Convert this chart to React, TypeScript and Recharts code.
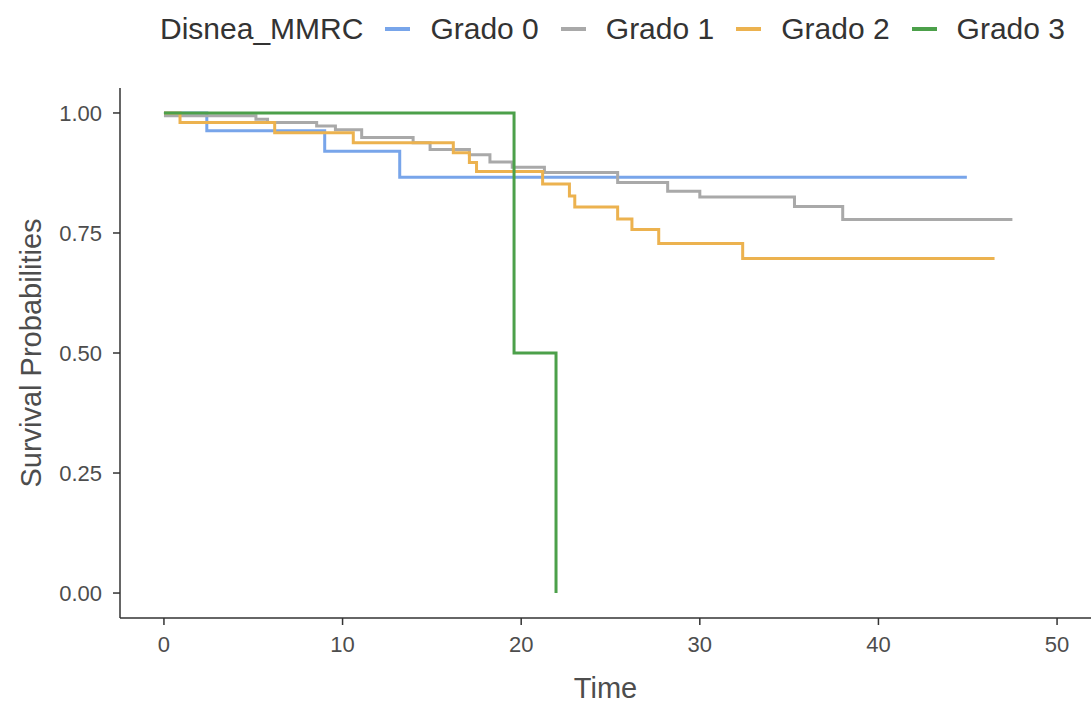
import React from 'react';
import { LineChart, Line, XAxis, YAxis, Legend } from 'recharts';

// Kaplan-Meier steps (time, survival)
const grado0Time = [0, 2.4, 9.0, 13.2, 44.95];
const grado0Surv = [1.0, 0.963, 0.92, 0.866, 0.866];

const grado1Time = [0, 5.15, 5.8, 8.55, 9.6, 11.07, 13.95, 14.9, 17.1, 18.25, 19.5, 21.3, 25.4, 28.2, 30.0, 35.3, 38.0, 47.5];
const grado1Surv = [0.994, 0.987, 0.98, 0.973, 0.965, 0.949, 0.938, 0.924, 0.913, 0.898, 0.887, 0.876, 0.855, 0.837, 0.825, 0.805, 0.778, 0.778];

const grado2Time = [0, 0.9, 6.2, 10.6, 16.2, 17.1, 17.5, 21.2, 22.7, 23.0, 25.4, 26.2, 27.7, 32.4, 46.5];
const grado2Surv = [1.0, 0.98, 0.959, 0.938, 0.917, 0.897, 0.878, 0.852, 0.827, 0.804, 0.779, 0.757, 0.728, 0.697, 0.697];

const grado3Time = [0, 19.6, 21.95];
const grado3Surv = [1.0, 0.5, 0.0];

const xTicks = [0, 10, 20, 30, 40, 50];
const yTicks = [0, 0.25, 0.5, 0.75, 1];

const legendTitle = 'Disnea_MMRC';

const toPoints = (t: number[], s: number[]) => t.map((v, i) => ({ t: v, s: s[i] }));

const series = [
  { name: 'Grado 0', color: '#78A5EA', data: toPoints(grado0Time, grado0Surv) },
  { name: 'Grado 1', color: '#A9A9A9', data: toPoints(grado1Time, grado1Surv) },
  { name: 'Grado 2', color: '#ECB24F', data: toPoints(grado2Time, grado2Surv) },
  { name: 'Grado 3', color: '#4CA04A', data: toPoints(grado3Time, grado3Surv) },
];

const FONT = '"Liberation Sans", Arial, sans-serif';
const LEGEND_H = 58;

const LegendContent = () => (
  <div
    style={{
      display: 'flex',
      alignItems: 'center',
      paddingLeft: 160,
      height: LEGEND_H,
      fontFamily: FONT,
      fontSize: 30,
      color: '#333333',
    }}
  >
    <span style={{ marginRight: 22 }}>{legendTitle}</span>
    {series.map((s) => (
      <span key={s.name} style={{ display: 'flex', alignItems: 'center', marginRight: 22 }}>
        <span style={{ width: 25, height: 4, background: s.color, marginRight: 20, display: 'inline-block' }} />
        <span>{s.name}</span>
      </span>
    ))}
  </div>
);

const YTitle = (props: any) => {
  const { viewBox } = props;
  if (!viewBox) return null;
  const cx = 31;
  const cy = viewBox.y + viewBox.height / 2;
  return (
    <text
      x={cx}
      y={cy}
      transform={`rotate(-90, ${cx}, ${cy})`}
      textAnchor="middle"
      dominantBaseline="central"
      fill="#4D4D4D"
      fontSize={29}
      fontFamily={FONT}
    >
      Survival Probabilities
    </text>
  );
};

const XTitle = (props: any) => {
  const { viewBox } = props;
  if (!viewBox) return null;
  const cx = viewBox.x + viewBox.width / 2;
  return (
    <text x={cx} y={688} textAnchor="middle" dominantBaseline="central" fill="#4D4D4D" fontSize={29} fontFamily={FONT}>
      Time
    </text>
  );
};

export default function App() {
  return (
    <div style={{ position: 'absolute', left: 0, top: 0, background: '#fff', fontFamily: FONT }}>
      <LineChart width={1091} height={704} margin={{ top: 88 - LEGEND_H, right: 0, left: 0, bottom: 0 }}>
        <XAxis
          dataKey="t"
          type="number"
          domain={[-2.46, 51.9]}
          ticks={xTicks}
          allowDataOverflow
          height={86}
          tickSize={7}
          tickMargin={11}
          stroke="#333333"
          axisLine={{ stroke: '#333333', strokeWidth: 1.5 }}
          tickLine={{ stroke: '#333333', strokeWidth: 1.5 }}
          tick={{ fill: '#4D4D4D', fontSize: 22, fontFamily: FONT }}
          label={<XTitle />}
        />
        <YAxis
          type="number"
          domain={[-0.052, 1.052]}
          ticks={yTicks}
          allowDataOverflow
          width={120}
          tickSize={7}
          tickMargin={11}
          tickFormatter={(v: number) => v.toFixed(2)}
          axisLine={{ stroke: '#333333', strokeWidth: 1.5 }}
          tickLine={{ stroke: '#333333', strokeWidth: 1.5 }}
          tick={{ fill: '#4D4D4D', fontSize: 22, fontFamily: FONT }}
          label={<YTitle />}
        />
        <Legend
          verticalAlign="top"
          height={LEGEND_H}
          content={<LegendContent />}
          wrapperStyle={{ top: 0, left: 0, width: 1091 }}
        />
        {series.map((s) => (
          <Line
            key={s.name}
            data={s.data}
            dataKey="s"
            name={s.name}
            type="stepAfter"
            stroke={s.color}
            strokeWidth={3}
            dot={false}
            activeDot={false}
            isAnimationActive={false}
          />
        ))}
      </LineChart>
    </div>
  );
}
